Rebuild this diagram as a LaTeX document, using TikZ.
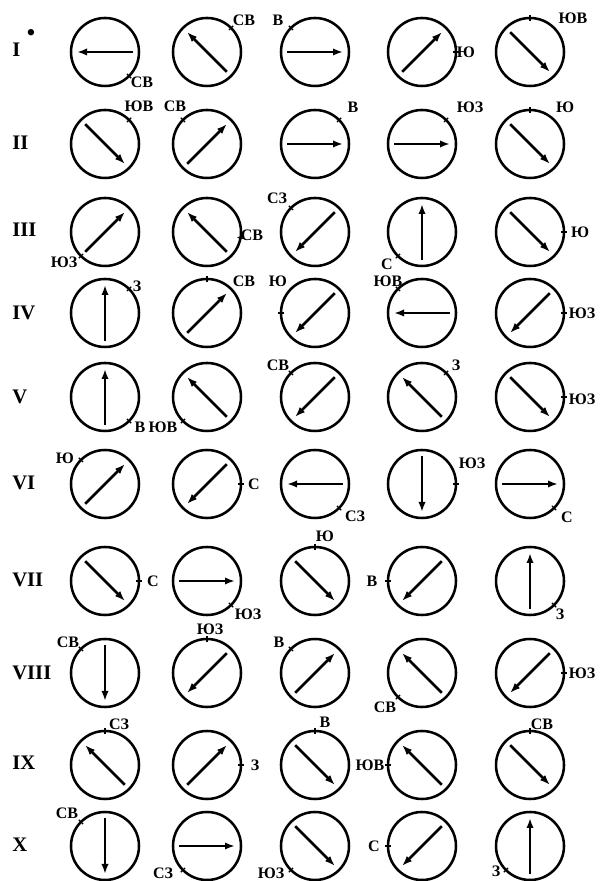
\documentclass[tikz,border=0pt]{standalone}
\usepackage{fontspec}
\setmainfont{Liberation Serif}
\usetikzlibrary{calc,arrows.meta}

\begin{document}
\begin{tikzpicture}[x=0.75pt, y=0.75pt, >={Latex[length=7.5pt,width=5.5pt]},
  dial/.style={draw, circle, line width=1.9pt, minimum size=51pt, inner sep=0pt},
  needle/.style={->, line width=1.9pt},
  tickmark/.style={line width=0.9pt},
  lbl/.style={font=\fontsize{12}{13}\selectfont\bfseries, inner sep=0pt},
  rowlbl/.style={anchor=west, font=\fontsize{15.5}{16}\selectfont\bfseries, inner sep=0pt}]
  \useasboundingbox (0,0) rectangle (600,881);
  % a dial: name, x, y, needle angle, tick angle, its label, label offset
  \newcommand{\rosedial}[7]{%
    \node[dial] (#1) at (#2,#3) {};
    \draw[needle] ($(#1)+(#4+180:28)$) -- ($(#1)+(#4:28)$);
    \draw[tickmark] ($(#1)+(#5:31)$) -- ($(#1)+(#5:37)$);
    \node[lbl] (#1t) at ($(#1)+#7$) {#6};
  }
  % ------------------------------------------------------------------ row labels
  \node[rowlbl] (row1) at (12,831) {I};
  \node[font=\fontsize{20}{20}\selectfont, inner sep=0pt] (row1dot) at (31,845) {\textbullet};
  \node[rowlbl] (row2) at (12,738) {II};
  \node[rowlbl] (row3) at (12,651) {III};
  \node[rowlbl] (row4) at (12,568) {IV};
  \node[rowlbl] (row5) at (12,484) {V};
  \node[rowlbl] (row6) at (12,398) {VI};
  \node[rowlbl] (row7) at (12,301) {VII};
  \node[rowlbl] (row8) at (12,208) {VIII};
  \node[rowlbl] (row9) at (12,118) {IX};
  \node[rowlbl] (row10) at (12,36) {X};
  % ------------------------------------------------------------------ I
  \rosedial{r1c1}{105}{829}{180}{-45}{СВ}{(37,-30)}
  \rosedial{r1c2}{207}{829}{135}{45}{СВ}{(37,32)}
  \rosedial{r1c3}{315}{829}{0}{135}{В}{(-37,32)}
  \rosedial{r1c4}{422}{829}{45}{0}{Ю}{(44,0)}
  \rosedial{r1c5}{530}{829}{-45}{90}{ЮВ}{(43,34)}
  % ------------------------------------------------------------------ II
  \rosedial{r2c1}{105}{737}{-45}{45}{ЮВ}{(34,38)}
  \rosedial{r2c2}{207}{737}{45}{135}{СВ}{(-32,38)}
  \rosedial{r2c3}{315}{737}{0}{45}{В}{(38,37)}
  \rosedial{r2c4}{422}{737}{0}{45}{ЮЗ}{(48,37)}
  \rosedial{r2c5}{530}{737}{-45}{90}{Ю}{(35,37)}
  % ------------------------------------------------------------------ III
  \rosedial{r3c1}{105}{649}{45}{225}{ЮЗ}{(-41,-30)}
  \rosedial{r3c2}{207}{649}{135}{-10}{СВ}{(45,-3)}
  \rosedial{r3c3}{315}{649}{225}{135}{СЗ}{(-38,34)}
  \rosedial{r3c4}{422}{649}{90}{225}{С}{(-35,-32)}
  \rosedial{r3c5}{530}{649}{-45}{0}{Ю}{(50,0)}
  % ------------------------------------------------------------------ IV
  \rosedial{r4c1}{105}{568}{90}{45}{З}{(32,27)}
  \rosedial{r4c2}{207}{568}{45}{90}{СВ}{(37,32)}
  \rosedial{r4c3}{315}{568}{225}{180}{Ю}{(-37,32)}
  \rosedial{r4c4}{422}{568}{180}{135}{ЮВ}{(-34,32)}
  \rosedial{r4c5}{530}{568}{225}{0}{ЮЗ}{(52,0)}
  % ------------------------------------------------------------------ V
  \rosedial{r5c1}{105}{484}{90}{-45}{В}{(35,-30)}
  \rosedial{r5c2}{207}{484}{135}{225}{ЮВ}{(-44,-30)}
  \rosedial{r5c3}{315}{484}{225}{135}{СВ}{(-37,32)}
  \rosedial{r5c4}{422}{484}{135}{45}{З}{(34,32)}
  \rosedial{r5c5}{530}{484}{-45}{0}{ЮЗ}{(52,-2)}
  % ------------------------------------------------------------------ VI
  \rosedial{r6c1}{105}{397}{45}{135}{Ю}{(-40,26)}
  \rosedial{r6c2}{207}{397}{225}{0}{С}{(47,0)}
  \rosedial{r6c3}{315}{397}{180}{-45}{СЗ}{(40,-32)}
  \rosedial{r6c4}{422}{397}{270}{0}{ЮЗ}{(50,21)}
  \rosedial{r6c5}{530}{397}{0}{-45}{С}{(37,-33)}
  % ------------------------------------------------------------------ VII
  \rosedial{r7c1}{105}{300}{-45}{0}{С}{(48,0)}
  \rosedial{r7c2}{207}{300}{0}{-45}{ЮЗ}{(41,-33)}
  \rosedial{r7c3}{315}{300}{-45}{90}{Ю}{(10,45)}
  \rosedial{r7c4}{422}{300}{225}{180}{В}{(-50,0)}
  \rosedial{r7c5}{530}{300}{90}{-45}{З}{(30,-33)}
  % ------------------------------------------------------------------ VIII
  \rosedial{r8c1}{105}{208}{270}{135}{СВ}{(-37,31)}
  \rosedial{r8c2}{207}{208}{225}{90}{ЮЗ}{(3,44)}
  \rosedial{r8c3}{315}{208}{45}{135}{В}{(-36,31)}
  \rosedial{r8c4}{422}{208}{135}{225}{СВ}{(-37,-34)}
  \rosedial{r8c5}{530}{208}{225}{0}{ЮЗ}{(52,0)}
  % ------------------------------------------------------------------ IX
  \rosedial{r9c1}{105}{116}{135}{90}{СЗ}{(14,41)}
  \rosedial{r9c2}{207}{116}{45}{0}{З}{(48,0)}
  \rosedial{r9c3}{315}{116}{-45}{90}{В}{(10,43)}
  \rosedial{r9c4}{422}{116}{135}{180}{ЮВ}{(-52,0)}
  \rosedial{r9c5}{530}{116}{-45}{90}{СВ}{(12,41)}
  % ------------------------------------------------------------------ X
  \rosedial{r10c1}{105}{35}{270}{135}{СВ}{(-38,33)}
  \rosedial{r10c2}{207}{35}{0}{225}{СЗ}{(-44,-27)}
  \rosedial{r10c3}{315}{35}{-45}{225}{ЮЗ}{(-44,-27)}
  \rosedial{r10c4}{422}{35}{225}{180}{С}{(-48,0)}
  \rosedial{r10c5}{530}{35}{90}{225}{З}{(-34,-25)}
\end{tikzpicture}
\end{document}
